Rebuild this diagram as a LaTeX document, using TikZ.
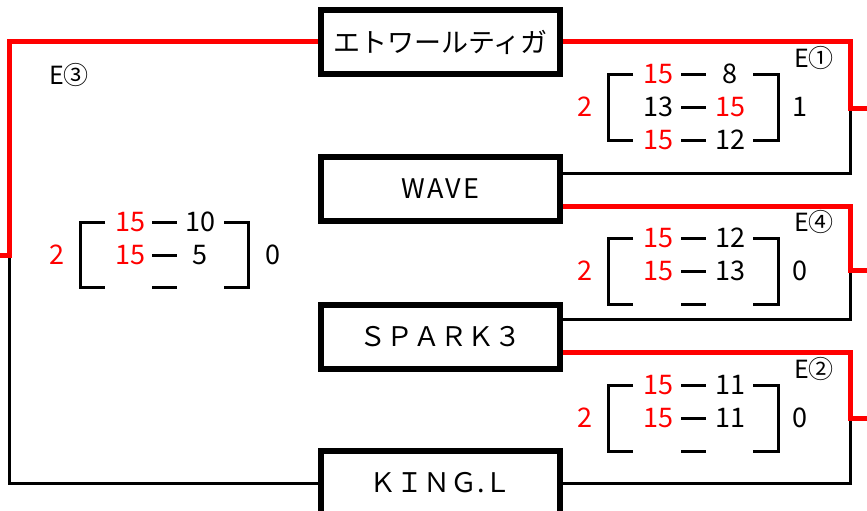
\documentclass[tikz,border=0pt]{standalone}
\usepackage{fontspec}
\setmainfont{Noto Sans CJK JP}
\usetikzlibrary{calc}
\definecolor{rd}{RGB}{255,0,0}
\begin{document}
\begin{tikzpicture}[x=1pt,y=-1pt,
  team/.style={draw=black,line width=6pt,minimum width=239pt,minimum height=64pt,inner sep=0pt,font=\fontsize{27}{30}\selectfont,fill=white},
  win/.style={draw=rd,line width=5pt},
  lose/.style={draw=black,line width=3pt},
  brk/.style={draw=black,line width=3pt},
  sc/.style={inner sep=0pt,font=\fontsize{27}{30}\selectfont},
  scr/.style={sc,text=rd},
  lab/.style={inner sep=0pt,font=\fontsize{25}{28}\selectfont}]
\useasboundingbox (0,0) rectangle (867,511);
% teams
\node[team] (t1) at (440.5,42) {エトワールティガ};
\node[team] (t2) at (440.5,189) {W\kern2pt A\kern2pt V\kern2pt E};
\node[team] (t3) at (440.5,336.5) {ＳＰＡＲＫ３};
\node[team] (t4) at (440.5,483) {ＫＩＮＧ.Ｌ};
% junctions
\coordinate (j1) at (850,108); \coordinate (o1) at (867,108);
\coordinate (j2) at (850,270); \coordinate (o2) at (867,270);
\coordinate (j3) at (850,418); \coordinate (o3) at (867,418);
\coordinate (jl) at (9,255);   \coordinate (ol) at (0,255);
% connectors
\draw[lose] ([yshift=16pt]t2.east) -| (j1);
\draw[lose] ([yshift=17.5pt]t3.east) -| (j2);
\draw[lose] (t4.east) -| (j3);
\draw[lose] (t4.west) -| (jl);
\draw[win] (t1.east) -| (j1) -- (o1);
\draw[win] ([yshift=-17pt]t2.east) -| (j2) -- (o2);
\draw[win] ([yshift=-15.5pt]t3.east) -| (j3) -- (o3);
\draw[win] (t1.west) -| (jl) -- (ol);
% right blocks
\begin{scope}[shift={(0,74)}]
\draw[brk] (633,0) -- (608,0) -- (608,66) -- (633,66);
\draw[brk] (753,0) -- (778,0) -- (778,66) -- (753,66);
\draw[brk] (681,0) -- (706,0) (681,33) -- (706,33) (681,66) -- (706,66);
\node[scr] (a11) at (658,0) {15}; \node[sc] (a12) at (730,0) {8};
\node[sc] (a21) at (658,33) {13}; \node[scr] (a22) at (730,33) {15};
\node[scr] (a31) at (658,66) {15}; \node[sc] (a32) at (730,66) {12};
\node[scr] (aw) at (585,33) {2}; \node[sc] (al) at (800,33) {1};
\node[lab] (ae) at (814,-16) {E①};
\end{scope}
\begin{scope}[shift={(0,238)}]
\draw[brk] (633,0) -- (608,0) -- (608,66) -- (633,66);
\draw[brk] (753,0) -- (778,0) -- (778,66) -- (753,66);
\draw[brk] (681,0) -- (706,0) (681,33) -- (706,33) (681,66) -- (706,66);
\node[scr] (b11) at (658,0) {15}; \node[sc] (b12) at (730,0) {12};
\node[scr] (b21) at (658,33) {15}; \node[sc] (b22) at (730,33) {13};
\node[scr] (bw) at (585,33) {2}; \node[sc] (bl) at (800,33) {0};
\node[lab] (be) at (814,-16) {E④};
\end{scope}
\begin{scope}[shift={(0,385)}]
\draw[brk] (633,0) -- (608,0) -- (608,66) -- (633,66);
\draw[brk] (753,0) -- (778,0) -- (778,66) -- (753,66);
\draw[brk] (681,0) -- (706,0) (681,33) -- (706,33) (681,66) -- (706,66);
\node[scr] (c11) at (658,0) {15}; \node[sc] (c12) at (730,0) {11};
\node[scr] (c21) at (658,33) {15}; \node[sc] (c22) at (730,33) {11};
\node[scr] (cw) at (585,33) {2}; \node[sc] (cl) at (800,33) {0};
\node[lab] (ce) at (814,-16) {E②};
\end{scope}
% left block
\begin{scope}[shift={(0,222)}]
\draw[brk] (105,0) -- (80,0) -- (80,65) -- (105,65);
\draw[brk] (224,0) -- (248,0) -- (248,65) -- (224,65);
\draw[brk] (152,0) -- (177,0) (152,33) -- (177,33) (152,65) -- (177,65);
\node[scr] (d11) at (130,0) {15}; \node[sc] (d12) at (200,0) {10};
\node[scr] (d21) at (130,33) {15}; \node[sc] (d22) at (200,33) {5};
\node[scr] (dw) at (57,33) {2}; \node[sc] (dl) at (273,33) {0};
\end{scope}
\node[lab] (de) at (69,75) {E③};
\end{tikzpicture}
\end{document}
